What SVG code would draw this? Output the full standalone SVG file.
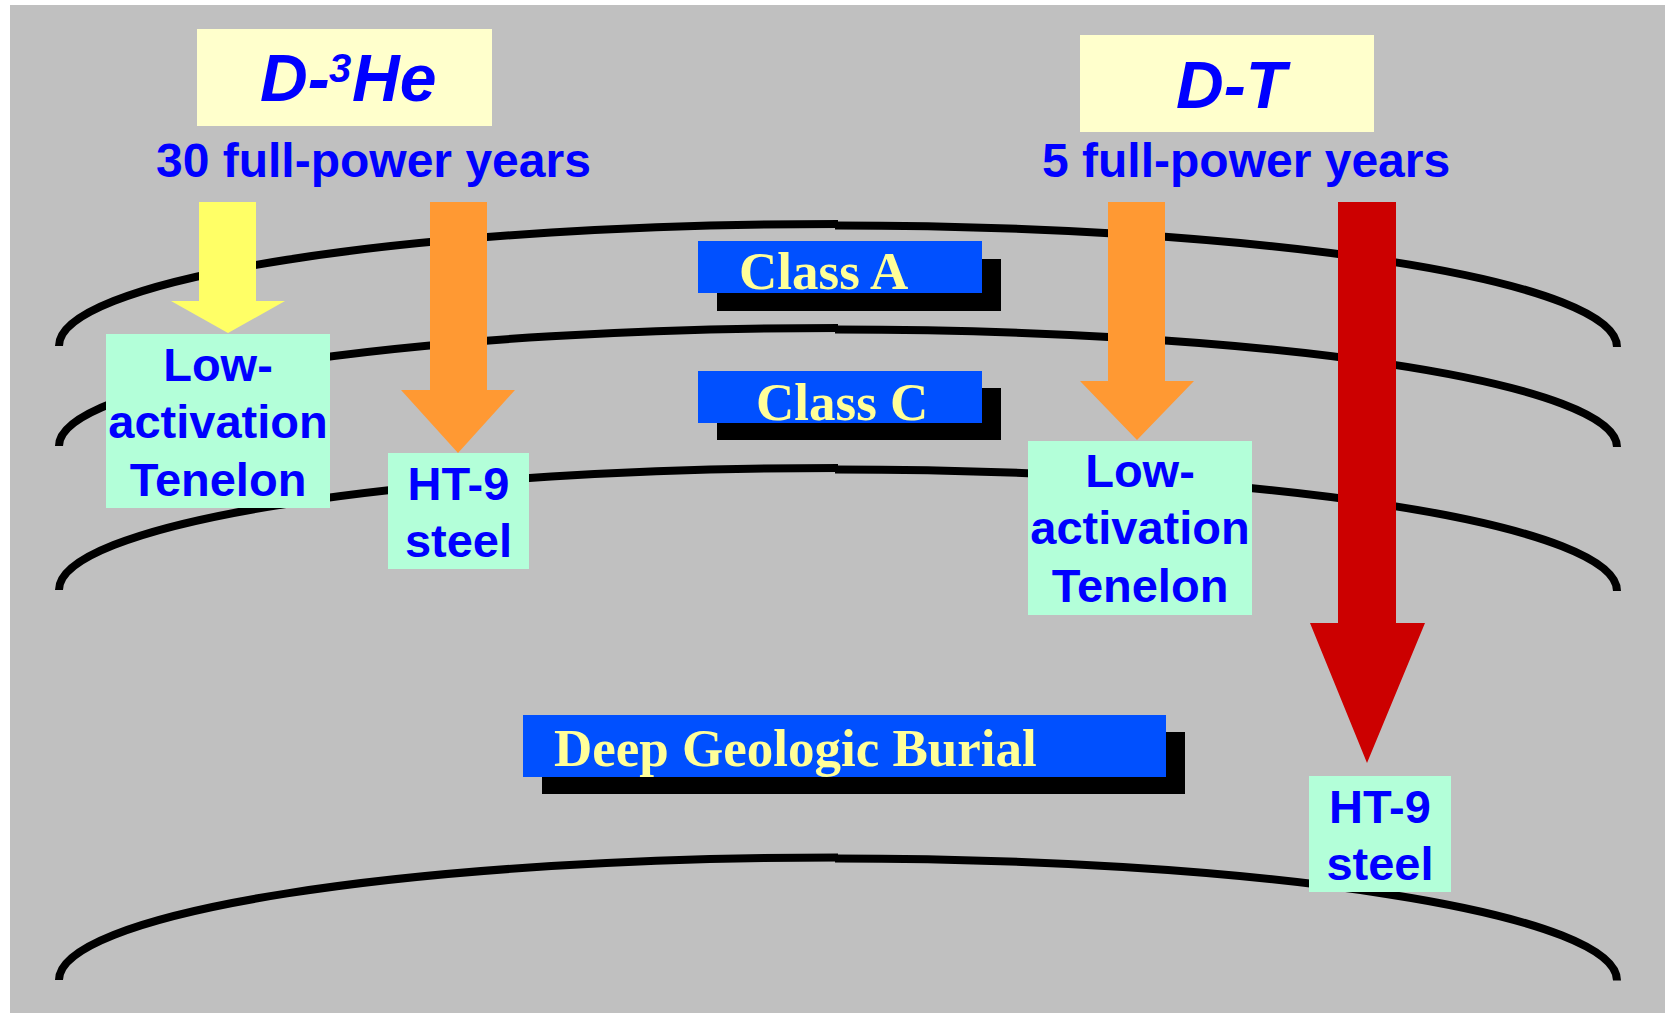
<svg xmlns="http://www.w3.org/2000/svg" width="1668" height="1014" viewBox="0 0 1668 1014">
  <style>
    .sans { font-family: "Liberation Sans", Arial, sans-serif; font-weight: bold; fill: #0000FF; }
    .title { font-size: 66px; font-style: italic; }
    .years { font-size: 48px; }
    .mat { font-size: 47px; text-anchor: middle; }
    .cls { font-family: "Liberation Serif", "Times New Roman", serif; font-weight: bold; font-size: 53px; fill: #FFFF99; }
    .band { fill: none; stroke: #000; stroke-width: 8; }
    .fuel { fill: #FFFFCC; }
    .matbox { fill: #B3FFD9; }
    .clsbox { fill: #0050FF; }
    .shadow { fill: #000; }
  </style>

  <!-- backdrop -->
  <rect x="0" y="0" width="1668" height="1014" fill="#FFFFFF"/>
  <rect x="10" y="5" width="1655" height="1008" fill="#C0C0C0"/>

  <!-- disposal class boundaries: each drawn as two quarter-ellipse halves -->
  <g id="bands">
    <path class="band" d="M59,346 A779,122 0 0 1 838,224"/>
    <path class="band" d="M835,225.5 A782,121.5 0 0 1 1617,347"/>
    <path class="band" d="M59,446 A779,118 0 0 1 838,328"/>
    <path class="band" d="M835,329.5 A782,117.5 0 0 1 1617,447"/>
    <path class="band" d="M59,590 A779,122 0 0 1 838,468"/>
    <path class="band" d="M835,469.5 A782,121.5 0 0 1 1617,591"/>
    <path class="band" d="M59,980 A779,122.5 0 0 1 838,857.5"/>
    <path class="band" d="M835,858.5 A782,122 0 0 1 1617,980.5"/>
  </g>

  <!-- class labels -->
  <g id="class-a">
    <rect class="shadow" x="717" y="259" width="284" height="52"/>
    <rect class="clsbox" x="698" y="241" width="284" height="52"/>
    <text class="cls" x="739" y="289">Class A</text>
  </g>
  <g id="class-c">
    <rect class="shadow" x="717" y="388" width="284" height="52"/>
    <rect class="clsbox" x="698" y="371" width="284" height="52"/>
    <text class="cls" x="756" y="420">Class C</text>
  </g>
  <g id="deep-burial">
    <rect class="shadow" x="542" y="732" width="643" height="62"/>
    <rect class="clsbox" x="523" y="715" width="643" height="62"/>
    <text class="cls" x="554" y="766">Deep Geologic Burial</text>
  </g>

  <!-- fuel cycles -->
  <g id="d-he3">
    <rect class="fuel" x="197" y="29" width="295" height="97"/>
    <text class="sans title"><tspan x="260" y="101">D-</tspan><tspan x="329" y="82" font-size="40">3</tspan><tspan x="352" y="101">He</tspan></text>
    <text class="sans years" x="156" y="177">30 full-power years</text>
  </g>
  <g id="d-t">
    <rect class="fuel" x="1080" y="35" width="294" height="97"/>
    <text class="sans title" x="1176" y="108">D-T</text>
    <text class="sans years" x="1042" y="177">5 full-power years</text>
  </g>

  <!-- arrows -->
  <g id="connectors">
    <polygon fill="#FFFF66" points="199,202 256,202 256,301 285,301 228,333 171,301 199,301"/>
    <polygon fill="#FF9933" points="430,202 487,202 487,390 515,390 458,453 401,390 430,390"/>
    <polygon fill="#FF9933" points="1108,202 1165,202 1165,381 1194,381 1137,440 1080,381 1108,381"/>
    <polygon fill="#CC0000" points="1338,202 1396,202 1396,623 1425,623 1367,763 1310,623 1338,623"/>
  </g>

  <!-- materials -->
  <g id="tenelon-dhe3">
    <rect class="matbox" x="106" y="334" width="224" height="174"/>
    <text class="sans mat"><tspan x="218" y="381">Low-</tspan><tspan x="218" y="438">activation</tspan><tspan x="218" y="496">Tenelon</tspan></text>
  </g>
  <g id="ht9-dhe3">
    <rect class="matbox" x="388" y="453" width="141" height="116"/>
    <text class="sans mat"><tspan x="458.5" y="500">HT-9</tspan><tspan x="458.5" y="557">steel</tspan></text>
  </g>
  <g id="tenelon-dt">
    <rect class="matbox" x="1028" y="441" width="224" height="174"/>
    <text class="sans mat"><tspan x="1140" y="487">Low-</tspan><tspan x="1140" y="544">activation</tspan><tspan x="1140" y="602">Tenelon</tspan></text>
  </g>
  <g id="ht9-dt">
    <rect class="matbox" x="1309" y="776" width="142" height="116"/>
    <text class="sans mat"><tspan x="1380" y="823">HT-9</tspan><tspan x="1380" y="880">steel</tspan></text>
  </g>
</svg>
